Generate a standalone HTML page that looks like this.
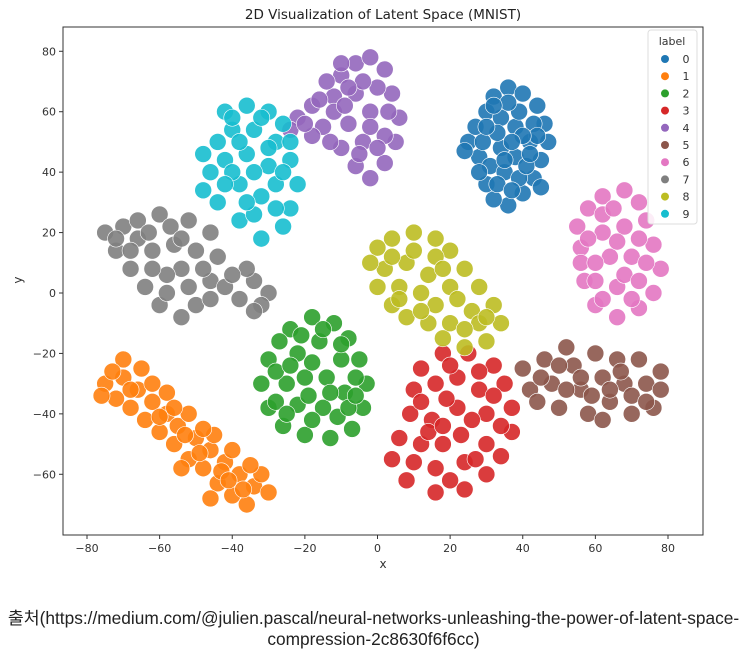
<!DOCTYPE html>
<html><head><meta charset="utf-8"><style>
body{margin:0;background:#fff;width:747px;height:660px;overflow:hidden;font-family:"Liberation Sans","DejaVu Sans",sans-serif}
.cap{position:absolute;left:0;width:747px;text-align:center;font-family:"Liberation Sans","Noto Sans CJK KR",sans-serif;font-size:17.3px;line-height:21px;color:#222;white-space:nowrap}
</style></head><body>
<svg id="chart" width="747" height="590" style="position:absolute;left:0;top:0" font-family="DejaVu Sans, Liberation Sans, sans-serif"></svg>
<div class="cap" style="top:608px">출처(https://medium.com/@julien.pascal/neural-networks-unleashing-the-power-of-latent-space-<br>compression-2c8630f6f6cc)</div>
<script>
const labels=["0","1","2","3","4","5","6","7","8","9"];
const colors=["#1f77b4","#ff7f0e","#2ca02c","#d62728","#9467bd","#8c564b","#e377c2","#7f7f7f","#bcbd22","#17becf"];
const xTicks=[-80,-60,-40,-20,0,20,40,60,80];
const yTicks=[-60,-40,-20,0,20,40,60,80];
const c0=[[25,50],[28,45],[27,55],[30,60],[32,65],[36,68],[40,66],[44,62],[46,56],[47,50],[45,44],[43,38],[40,33],[36,29],[32,31],[30,36],[31,42],[34,48],[38,45],[42,50],[38,55],[34,58],[39,60],[43,56],[35,40],[39,38],[28,40],[33,53],[24,47],[45,35],[36,63],[41,42],[29,50],[33,36],[37,34],[42,46],[44,52],[30,55],[35,44],[40,52],[32,62],[37,50]];
const c1=[[-75,-30],[-70,-28],[-72,-35],[-66,-32],[-68,-38],[-62,-36],[-64,-42],[-58,-40],[-60,-46],[-55,-44],[-56,-50],[-50,-48],[-52,-55],[-46,-52],[-48,-58],[-42,-56],[-44,-63],[-38,-60],[-40,-67],[-34,-64],[-36,-70],[-30,-66],[-32,-60],[-65,-25],[-58,-33],[-52,-40],[-45,-47],[-40,-52],[-70,-22],[-76,-34],[-54,-58],[-46,-68],[-62,-30],[-73,-26],[-68,-32],[-60,-41],[-53,-47],[-49,-53],[-43,-59],[-37,-65],[-56,-38],[-48,-45],[-41,-62],[-35,-57]];
const c2=[[-30,-22],[-32,-30],[-30,-38],[-26,-44],[-20,-47],[-13,-48],[-7,-45],[-4,-38],[-3,-30],[-5,-22],[-8,-15],[-12,-10],[-18,-8],[-24,-12],[-27,-16],[-22,-20],[-16,-16],[-10,-22],[-14,-28],[-20,-28],[-25,-30],[-22,-37],[-15,-38],[-9,-33],[-18,-42],[-28,-36],[-11,-41],[-6,-28],[-28,-26],[-24,-24],[-18,-23],[-13,-33],[-19,-34],[-25,-40],[-8,-38],[-15,-12],[-21,-14],[-10,-17],[-6,-34]];
const c3=[[12,-25],[18,-20],[25,-20],[32,-24],[35,-30],[37,-38],[37,-46],[34,-54],[30,-60],[24,-65],[16,-66],[8,-62],[4,-55],[6,-48],[9,-40],[10,-32],[16,-30],[22,-28],[28,-32],[30,-40],[30,-50],[24,-56],[16,-58],[12,-50],[15,-42],[22,-38],[23,-47],[28,-26],[18,-50],[12,-36],[19,-35],[26,-42],[34,-44],[20,-62],[10,-56],[27,-55],[32,-34],[20,-24],[14,-46],[18,-44]];
const c4=[[-22,58],[-18,62],[-24,54],[-15,55],[-12,65],[-10,72],[-6,76],[-2,78],[2,74],[4,66],[6,58],[5,50],[2,43],[-2,38],[-6,42],[-4,50],[-8,56],[-2,60],[-6,66],[-14,70],[0,68],[-10,48],[-18,52],[-12,60],[2,52],[-16,64],[-20,56],[-9,62],[-4,70],[0,48],[-5,46],[-13,50],[-8,68],[3,60],[-2,55],[-10,76]];
const c5=[[40,-25],[42,-32],[46,-22],[48,-30],[50,-38],[54,-24],[56,-32],[58,-40],[60,-20],[62,-28],[64,-36],[66,-22],[68,-30],[70,-40],[72,-22],[74,-30],[76,-38],[78,-32],[62,-42],[52,-18],[44,-36],[56,-28],[70,-34],[45,-28],[52,-32],[59,-34],[67,-26],[74,-36],[78,-26],[64,-32],[50,-24]];
const c6=[[56,15],[55,22],[58,28],[62,32],[68,34],[72,30],[74,24],[76,16],[78,8],[76,0],[72,-5],[66,-8],[60,-4],[57,4],[56,10],[62,20],[68,22],[64,12],[70,12],[66,2],[60,10],[72,18],[62,26],[70,-2],[58,18],[65,28],[74,10],[62,-2],[68,6],[66,17],[60,4],[72,4]];
const c7=[[-75,20],[-72,14],[-70,22],[-66,24],[-60,26],[-52,24],[-46,20],[-44,12],[-46,4],[-50,-4],[-54,-8],[-60,-4],[-64,2],[-68,8],[-62,14],[-56,16],[-54,8],[-58,6],[-50,14],[-66,18],[-38,-2],[-34,4],[-30,0],[-36,8],[-32,-4],[-42,2],[-72,18],[-63,20],[-57,22],[-48,8],[-52,2],[-58,0],[-62,8],[-68,14],[-54,18],[-46,-2],[-40,6],[-34,-6]];
const c8=[[0,15],[4,18],[10,20],[16,18],[20,14],[24,8],[28,2],[32,-4],[34,-10],[30,-16],[24,-18],[18,-15],[14,-10],[8,-8],[4,-4],[0,2],[2,8],[8,10],[14,6],[20,2],[26,-6],[20,-10],[12,0],[6,2],[16,12],[-2,10],[10,14],[22,-2],[28,-10],[16,-4],[6,-2],[12,-6],[24,-12],[30,-8],[18,8],[4,12]];
const c9=[[-42,60],[-36,62],[-30,60],[-26,56],[-48,46],[-44,50],[-40,54],[-34,54],[-28,50],[-46,40],[-42,44],[-36,46],[-30,42],[-24,44],[-22,36],[-24,28],[-26,22],[-32,18],[-38,24],[-44,30],[-48,34],[-38,36],[-32,32],[-28,36],[-34,26],[-40,40],[-34,40],[-28,28],[-36,30],[-42,36],[-30,48],[-38,50],[-24,50],[-32,58],[-40,58],[-26,40]];
const clusters=[c0,c1,c2,c3,c4,c5,c6,c7,c8,c9];

const NS="http://www.w3.org/2000/svg";
const svg=document.getElementById('chart');
const L=63,R=703,T=27,B=535;
const xs=v=>87+(v+80)*(668-87)/160;
const ys=v=>293-v*(423/140);
function mk(tag,attrs,parent){const e=document.createElementNS(NS,tag);for(const k in attrs)e.setAttribute(k,attrs[k]);(parent||svg).appendChild(e);return e;}

const title=mk('text',{x:383,y:19,'text-anchor':'middle','font-size':13.5,fill:'#222'});


title.textContent='2D Visualization of Latent Space (MNIST)';

const pts=mk('g',{});


clusters.forEach((c,i)=>{
  const g=mk('g',{fill:colors[i],stroke:'#fff','stroke-width':0.6,'fill-opacity':0.9},pts);
  
  
  c.forEach(p=>{
    const e=mk('circle',{cx:xs(p[0]),cy:ys(p[1]),r:8.5},g);
    
    
  });
});

const frame=mk('rect',{x:L,y:T,width:R-L,height:B-T,fill:'none',stroke:'#333','stroke-width':1});



xTicks.forEach(v=>{
  mk('line',{x1:xs(v),x2:xs(v),y1:B,y2:B+4,stroke:'#333'});
  const t=mk('text',{x:xs(v),y:B+17,'text-anchor':'middle','font-size':11,fill:'#333'});
  
  
  t.textContent=v<0?'\u2212'+(-v):v;
});
yTicks.forEach(v=>{
  mk('line',{x1:L-4,x2:L,y1:ys(v),y2:ys(v),stroke:'#333'});
  const t=mk('text',{x:L-7,y:ys(v)+4,'text-anchor':'end','font-size':11,fill:'#333'});
  
  
  t.textContent=v<0?'\u2212'+(-v):v;
});
const xl=mk('text',{x:383,y:568,'text-anchor':'middle','font-size':12,fill:'#333'});


xl.textContent='x';
const yl=mk('text',{x:22,y:280,'text-anchor':'middle','font-size':12,fill:'#333',transform:'rotate(-90 22 280)'});


yl.textContent='y';

const lg=mk('g',{});


mk('rect',{x:648,y:30,width:49,height:194,rx:3,fill:'#fff','fill-opacity':0.85,stroke:'#ddd'},lg);
const lt=mk('text',{x:672,y:45,'text-anchor':'middle','font-size':11,fill:'#333'},lg);
lt.textContent='label';
labels.forEach((s,i)=>{
  const y=59+i*17.2;
  const e=mk('g',{},lg);
  
  
  mk('circle',{cx:665,cy:y,r:4,fill:colors[i]},e);
  const t=mk('text',{x:686,y:y+4,'text-anchor':'middle','font-size':11,fill:'#333'},e);
  t.textContent=s;
});
</script>
</body></html>
